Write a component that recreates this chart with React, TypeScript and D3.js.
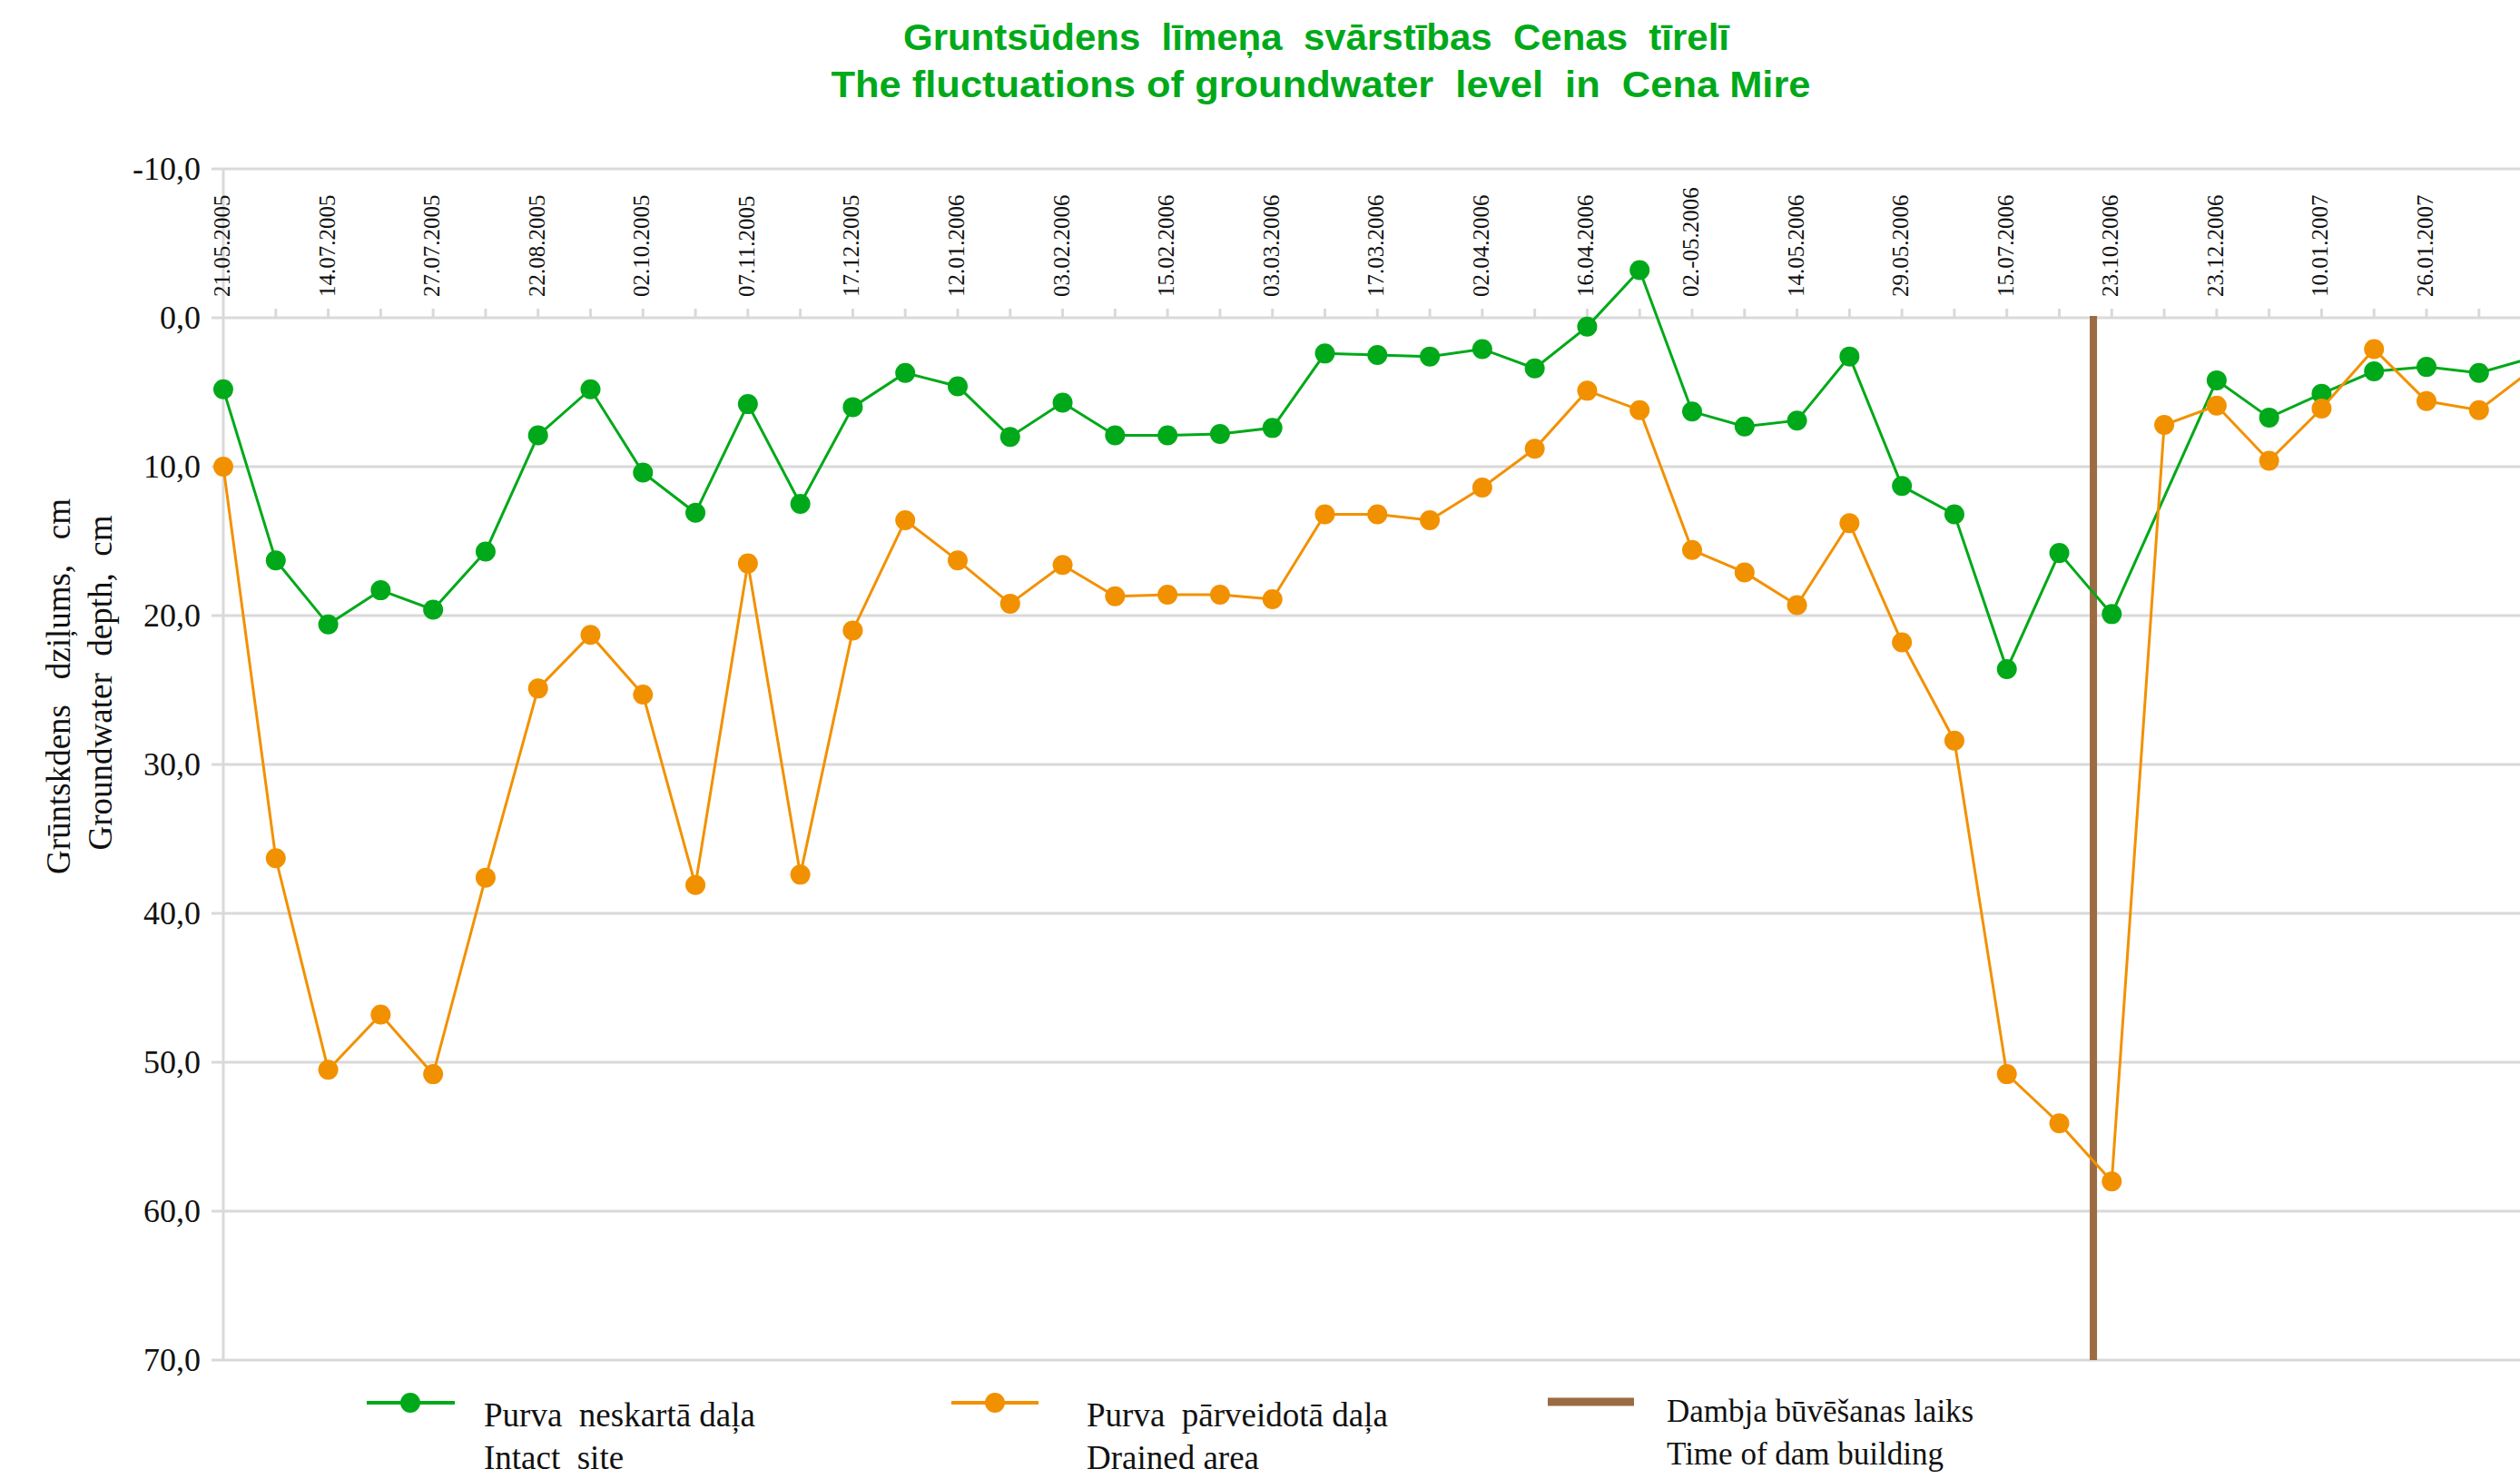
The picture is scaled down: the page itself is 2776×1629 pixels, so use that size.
import React from "react";
import * as d3 from "d3";

// dates shown on the axis, one for every second measurement
const dateLabels = [
  "21.05.2005", "14.07.2005", "27.07.2005", "22.08.2005", "02.10.2005", "07.11.2005",
  "17.12.2005", "12.01.2006", "03.02.2006", "15.02.2006", "03.03.2006", "17.03.2006",
  "02.04.2006", "16.04.2006", "02.-05.2006", "14.05.2006", "29.05.2006", "15.07.2006",
  "23.10.2006", "23.12.2006", "10.01.2007", "26.01.2007",
];

// groundwater depth, cm (null = no measurement)
const intactSite = [
  4.8, 16.3, 20.6, 18.3, 19.6, 15.7, 7.9, 4.8, 10.4, 13.1,
  5.8, 12.5, 6.0, 3.7, 4.6, 8.0, 5.7, 7.9, 7.9, 7.8,
  7.4, 2.4, 2.5, 2.6, 2.1, 3.4, 0.6, -3.2, 6.3, 7.3,
  6.9, 2.6, 11.3, 13.2, 23.6, 15.8, 19.9, null, 4.2, 6.7,
  5.1, 3.6, 3.3, 3.7, 2.7,
];
const drainedArea = [
  10.0, 36.3, 50.5, 46.8, 50.8, 37.6, 24.9, 21.3, 25.3, 38.1,
  16.5, 37.4, 21.0, 13.6, 16.3, 19.2, 16.6, 18.7, 18.6, 18.6,
  18.9, 13.2, 13.2, 13.6, 11.4, 8.8, 4.9, 6.2, 15.6, 17.1,
  19.3, 13.8, 21.8, 28.4, 50.8, 54.1, 58.0, 7.2, 5.9, 9.6,
  6.1, 2.1, 5.6, 6.2, 3.5,
];
const yTicks = [-10, 0, 10, 20, 30, 40, 50, 60, 70];
const damIndex = 35.65;

const GREEN = "#00A919";
const ORANGE = "#F29100";
const BROWN = "#9B6B43";
const GRID = "#D9D9D9";
const serif = "'Liberation Serif', 'Times New Roman', serif";
const sans = "'Liberation Sans', Arial, sans-serif";
const pre = { whiteSpace: "pre" } as React.CSSProperties;

const App = () => {
  const width = 2776;
  const height = 1629;

  const x = d3.scaleLinear().domain([0, 42]).range([246, 2673]);
  const y = d3.scaleLinear().domain([-10, 70]).range([186, 1498]);
  const fmt = (v: number) => d3.format(".1f")(v).replace(".", ",").replace("−", "-");

  const line = d3
    .line<[number, number]>()
    .x((d) => x(d[0]))
    .y((d) => y(d[1]));

  const toPts = (arr: (number | null)[]) =>
    arr.map((v, i) => [i, v] as [number, number | null]).filter((d) => d[1] !== null) as [number, number][];

  const green = toPts(intactSite);
  const orange = toPts(drainedArea);

  return (
    <div style={{ position: "absolute", left: 0, top: 0 }}>
      <svg width={width} height={height} style={{ display: "block", background: "#fff" }}>
        {/* title */}
        <text x={1450} y={55} textAnchor="middle" fontFamily={sans} fontWeight="bold" fontSize={41}
          fill={GREEN} textLength={910} lengthAdjust="spacingAndGlyphs" style={pre}>
          Gruntsūdens  līmeņa  svārstības  Cenas  tīrelī
        </text>
        <text x={1455} y={107} textAnchor="middle" fontFamily={sans} fontWeight="bold" fontSize={41}
          fill={GREEN} textLength={1079} lengthAdjust="spacingAndGlyphs" style={pre}>
          The fluctuations of groundwater  level  in  Cena Mire
        </text>

        {/* y grid + labels */}
        {yTicks.map((t) => (
          <g key={t}>
            <line x1={233} x2={width} y1={y(t)} y2={y(t)} stroke={GRID} strokeWidth={3} />
            <text x={221} y={y(t) + 12} textAnchor="end" fontFamily={serif} fontSize={36} fill="#111">
              {fmt(t)}
            </text>
          </g>
        ))}
        <line x1={x(0)} x2={x(0)} y1={y(-10)} y2={y(70)} stroke={GRID} strokeWidth={3} />

        {/* x ticks */}
        {intactSite.map((_, i) =>
          i === 0 ? null : (
            <line key={i} x1={x(i)} x2={x(i)} y1={y(0) - 10} y2={y(0)} stroke={GRID} strokeWidth={3} />
          )
        )}
        {dateLabels.map((d, k) => (
          <text key={d} transform={`translate(${x(k * 2) + 7},${327}) rotate(-90)`}
            fontFamily={serif} fontSize={25} fill="#111">
            {d}
          </text>
        ))}

        {/* y title */}
        <text transform={`translate(77,756) rotate(-90)`} textAnchor="middle" fontFamily={serif}
          fontSize={37} fill="#111" style={pre}>
          Grūntskdens   dziļums,   cm
        </text>
        <text transform={`translate(123,752) rotate(-90)`} textAnchor="middle" fontFamily={serif}
          fontSize={37} fill="#111" style={pre}>
          Groundwater  depth,  cm
        </text>

        {/* dam */}
        <line x1={x(damIndex)} x2={x(damIndex)} y1={y(0) - 2} y2={y(70)} stroke={BROWN} strokeWidth={8} />

        {/* series */}
        <path d={line(green) || ""} fill="none" stroke={GREEN} strokeWidth={3} />
        {green.map((d) => (
          <circle key={"g" + d[0]} cx={x(d[0])} cy={y(d[1])} r={11} fill={GREEN} />
        ))}
        <path d={line(orange) || ""} fill="none" stroke={ORANGE} strokeWidth={3} />
        {orange.map((d) => (
          <circle key={"o" + d[0]} cx={x(d[0])} cy={y(d[1])} r={11} fill={ORANGE} />
        ))}

        {/* legend */}
        <g>
          <line x1={404} x2={501} y1={1545} y2={1545} stroke={GREEN} strokeWidth={4} />
          <circle cx={452} cy={1545} r={11} fill={GREEN} />
          <text x={533} y={1571} fontFamily={serif} fontSize={37} fill="#111" style={pre}>Purva  neskartā daļa</text>
          <text x={533} y={1618} fontFamily={serif} fontSize={37} fill="#111" style={pre}>Intact  site</text>

          <line x1={1048} x2={1144} y1={1545} y2={1545} stroke={ORANGE} strokeWidth={4} />
          <circle cx={1096} cy={1545} r={11} fill={ORANGE} />
          <text x={1197} y={1571} fontFamily={serif} fontSize={37} fill="#111" style={pre}>Purva  pārveidotā daļa</text>
          <text x={1197} y={1618} fontFamily={serif} fontSize={37} fill="#111">Drained area</text>

          <line x1={1705} x2={1800} y1={1544} y2={1544} stroke={BROWN} strokeWidth={9} />
          <text x={1836} y={1566} fontFamily={serif} fontSize={35} fill="#111">Dambja būvēšanas laiks</text>
          <text x={1836} y={1613} fontFamily={serif} fontSize={35} fill="#111">Time of dam building</text>
        </g>
      </svg>
    </div>
  );
};

export default App;
